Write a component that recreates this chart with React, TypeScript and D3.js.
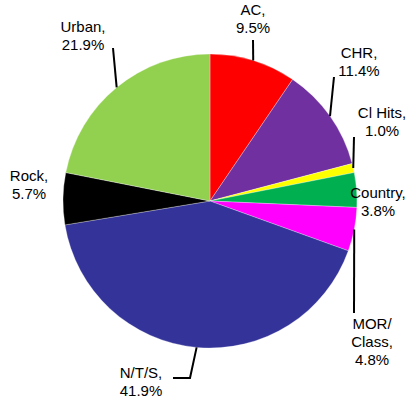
import React, { useRef, useEffect } from 'react';
import * as d3 from 'd3';

const categories = ['AC', 'CHR', 'Cl Hits', 'Country', 'MOR/Class', 'N/T/S', 'Rock', 'Urban'];
const shares = [9.5, 11.4, 1.0, 3.8, 4.8, 41.9, 5.7, 21.9];
const labelLines = [
  ['AC,', '9.5%'],
  ['CHR,', '11.4%'],
  ['Cl Hits,', '1.0%'],
  ['Country,', '3.8%'],
  ['MOR/', 'Class,', '4.8%'],
  ['N/T/S,', '41.9%'],
  ['Rock,', '5.7%'],
  ['Urban,', '21.9%'],
];
const colors = ['#ff0000', '#7030a0', '#ffff00', '#00b050', '#ff00ff', '#333399', '#000000', '#92d050'];

// where each label sits (center x, first baseline) and the bends of its leader line
const labelLayout = [
  { x: 253, y: 15, leader: [[253, 40]] },
  { x: 359, y: 58, leader: [[334, 77]] },
  { x: 382, y: 118, leader: [[354, 137]] },
  { x: 378, y: 198, leader: null },
  { x: 372, y: 329, leader: [[354, 313]] },
  { x: 141, y: 378, leader: [[190, 378], [173, 378]] },
  { x: 29, y: 181, leader: null },
  { x: 83, y: 32, leader: [[113, 48]] },
];

const PieChart = () => {
  const chartRef = useRef(null);

  useEffect(() => {
    document.body.style.margin = '0';
    const width = 406;
    const height = 401;
    const cx = 210;
    const cy = 201;
    const radius = 147;

    const svg = d3.select(chartRef.current)
      .attr('width', width)
      .attr('height', height)
      .html('');

    const data = categories.map((c, i) => ({ name: c, value: shares[i], idx: i }));

    const pie = d3.pie().sort(null).value(d => d.value);
    const arcs = pie(data);
    const arc = d3.arc().innerRadius(0).outerRadius(radius);

    const g = svg.append('g').attr('transform', `translate(${cx},${cy})`);

    g.selectAll('path')
      .data(arcs)
      .enter().append('path')
      .attr('d', arc)
      .attr('fill', d => colors[d.data.idx])
      .attr('stroke', '#ffffff')
      .attr('stroke-width', 0.3);

    // leader lines start on the rim at each slice's mid angle
    arcs.forEach(a => {
      const lay = labelLayout[a.data.idx];
      if (!lay.leader) return;
      const mid = (a.startAngle + a.endAngle) / 2;
      const start = [cx + radius * Math.sin(mid), cy - radius * Math.cos(mid)];
      const pts = [start, ...lay.leader];
      svg.append('path')
        .attr('d', d3.line()(pts))
        .attr('fill', 'none')
        .attr('stroke', '#000')
        .attr('stroke-width', 2);
    });

    const labels = svg.selectAll('.lbl')
      .data(data)
      .enter().append('text')
      .attr('class', 'lbl')
      .attr('text-anchor', 'middle')
      .attr('font-family', 'Arial, "Liberation Sans", sans-serif')
      .attr('font-size', '15px')
      .attr('fill', '#000');

    labels.each(function (d) {
      const lay = labelLayout[d.idx];
      labelLines[d.idx].forEach((ln, k) => {
        d3.select(this).append('tspan')
          .attr('x', lay.x)
          .attr('y', lay.y + k * 18)
          .text(ln);
      });
    });
  }, []);

  return <svg ref={chartRef}></svg>;
};

export default function App() {
  return <PieChart />;
}
